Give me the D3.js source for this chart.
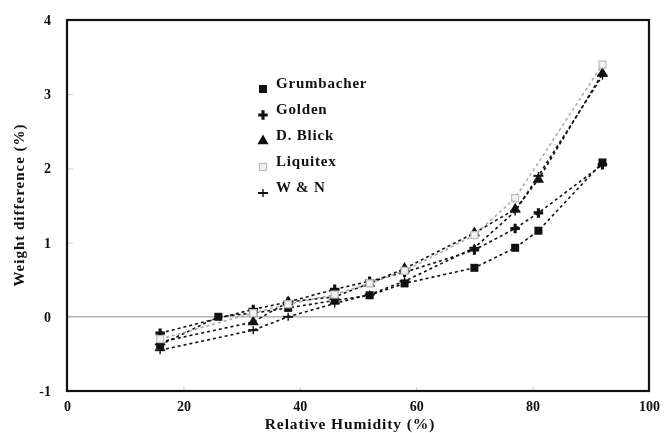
<!DOCTYPE html>
<html><head><meta charset="utf-8">
<script src="https://cdn.jsdelivr.net/npm/d3@7"></script>
<style>
html,body{margin:0;padding:0;background:#fff;}
svg{display:block;filter:blur(0.45px);}
text{font-family:"Liberation Serif","DejaVu Serif",serif;font-weight:bold;fill:#111;}
</style></head><body>
<svg id="c" width="666" height="433"></svg>
<script>
// ---- data ----
const xTicks = [0, 20, 40, 60, 80, 100];
const yTicks = [-1, 0, 1, 2, 3, 4];
const yTickLabels = ["-1", "0", "1", "2", "3", "4"];
const seriesNames = ["Grumbacher", "Golden", "D. Blick", "Liquitex", "W & N"];

const grumbacherRH = [16, 26, 32, 38, 46, 52, 58, 70, 77, 81, 92];
const grumbacherW  = [-0.38, 0.0, 0.05, 0.12, 0.22, 0.29, 0.45, 0.66, 0.93, 1.16, 2.08];

const goldenRH = [16, 32, 38, 46, 52, 58, 70, 77, 81, 92];
const goldenW  = [-0.22, 0.1, 0.2, 0.37, 0.48, 0.6, 0.9, 1.19, 1.4, 2.05];

const blickRH = [16, 32, 38, 46, 52, 58, 70, 77, 81, 92];
const blickW  = [-0.34, -0.07, 0.2, 0.27, 0.45, 0.65, 1.13, 1.45, 1.85, 3.28];

const liquitexRH = [16, 32, 38, 46, 52, 58, 70, 77, 92];
const liquitexW  = [-0.3, 0.05, 0.17, 0.3, 0.45, 0.62, 1.1, 1.6, 3.4];

const wnRH = [16, 32, 38, 46, 52, 58, 70, 77, 81, 92];
const wnW  = [-0.45, -0.18, 0.0, 0.18, 0.3, 0.48, 0.93, 1.42, 1.9, 3.25];

// ---- drawing ----
const svg = d3.select("#c");
const L = 67, R = 649, T = 20, B = 391;
const x = d3.scaleLinear().domain([0, 100]).range([L, R]);
const y = d3.scaleLinear().domain([-1, 4]).range([B, T]);

const series = [
  {name: seriesNames[0], rh: grumbacherRH, w: grumbacherW, color: "#111", marker: "square"},
  {name: seriesNames[1], rh: goldenRH, w: goldenW, color: "#111", marker: "bigplus"},
  {name: seriesNames[2], rh: blickRH, w: blickW, color: "#111", marker: "triangle"},
  {name: seriesNames[3], rh: liquitexRH, w: liquitexW, color: "#aaa", marker: "opensquare"},
  {name: seriesNames[4], rh: wnRH, w: wnW, color: "#111", marker: "thinplus"}
];

// zero line
svg.append("line").attr("x1", L).attr("x2", R).attr("y1", y(0)).attr("y2", y(0))
  .attr("stroke", "#b5b5b5").attr("stroke-width", 1.6);

// inner ticks
const gx = svg.append("g").attr("transform", `translate(0,${B})`)
  .call(d3.axisBottom(x).tickValues(xTicks).tickSize(-4).tickPadding(10).tickFormat(d3.format("d")));
gx.select(".domain").remove();
gx.selectAll("line").attr("stroke", "#ccc");
gx.selectAll("text").attr("font-size", 14).attr("font-family", '"Liberation Serif",serif').attr("font-weight", "bold").attr("fill", "#111");

const gy = svg.append("g").attr("transform", `translate(${L},0)`)
  .call(d3.axisLeft(y).tickValues(yTicks).tickSize(-6).tickPadding(16).tickFormat((d, i) => yTickLabels[i]));
gy.select(".domain").remove();
gy.selectAll("line").attr("stroke", "#ccc");
gy.selectAll("text").attr("font-size", 14).attr("font-family", '"Liberation Serif",serif').attr("font-weight", "bold").attr("fill", "#111");

// frame
svg.append("rect").attr("x", L).attr("y", T).attr("width", R - L).attr("height", B - T)
  .attr("fill", "none").attr("stroke", "#111").attr("stroke-width", 2.2);

// lines
const line = d3.line().x(d => x(d[0])).y(d => y(d[1]));
series.forEach(s => {
  const pts = s.rh.map((r, i) => [r, s.w[i]]);
  svg.append("path").datum(pts).attr("d", line).attr("fill", "none")
    .attr("stroke", s.color).attr("stroke-width", 1.6).attr("stroke-dasharray", "3,3");
});

function drawMarker(g, type, cx, cy, color) {
  if (type === "square") {
    g.append("rect").attr("x", cx - 4).attr("y", cy - 4).attr("width", 8).attr("height", 8).attr("fill", "#111");
  } else if (type === "opensquare") {
    g.append("rect").attr("x", cx - 3.5).attr("y", cy - 3.5).attr("width", 7).attr("height", 7)
      .attr("fill", "#f2f2f2").attr("stroke", "#bbb").attr("stroke-width", 1.2);
  } else if (type === "triangle") {
    g.append("path").attr("d", d3.symbol().type(d3.symbolTriangle).size(55)())
      .attr("transform", `translate(${cx},${cy})`).attr("fill", "#111");
  } else if (type === "bigplus") {
    g.append("path").attr("d", d3.symbol().type(d3.symbolCross).size(50)())
      .attr("transform", `translate(${cx},${cy})`).attr("fill", "#111");
  } else if (type === "thinplus") {
    g.append("line").attr("x1", cx - 5).attr("x2", cx + 5).attr("y1", cy).attr("y2", cy).attr("stroke", "#111").attr("stroke-width", 2);
    g.append("line").attr("x1", cx).attr("x2", cx).attr("y1", cy - 4).attr("y2", cy + 4).attr("stroke", "#111").attr("stroke-width", 1.4);
  }
}

const mg = svg.append("g");
series.forEach(s => {
  s.rh.forEach((r, i) => drawMarker(mg, s.marker, x(r), y(s.w[i]), s.color));
});

// legend
const lg = svg.append("g");
const legY0 = 89, legDy = 26;
series.forEach((s, i) => {
  const yy = legY0 + i * legDy;
  drawMarker(lg, s.marker, 263, yy, s.color);
  lg.append("text").attr("x", 276).attr("y", yy - 1).attr("font-size", 15)
    .attr("letter-spacing", 0.8).text(s.name);
});

// axis titles
svg.append("text").attr("x", 350).attr("y", 429).attr("text-anchor", "middle").attr("font-size", 15.5)
  .attr("letter-spacing", 0.9).text("Relative Humidity (%)");
svg.append("text").attr("transform", "translate(24,205) rotate(-90)").attr("text-anchor", "middle")
  .attr("font-size", 15).attr("letter-spacing", 1).text("Weight difference (%)");
</script>
</body></html>
